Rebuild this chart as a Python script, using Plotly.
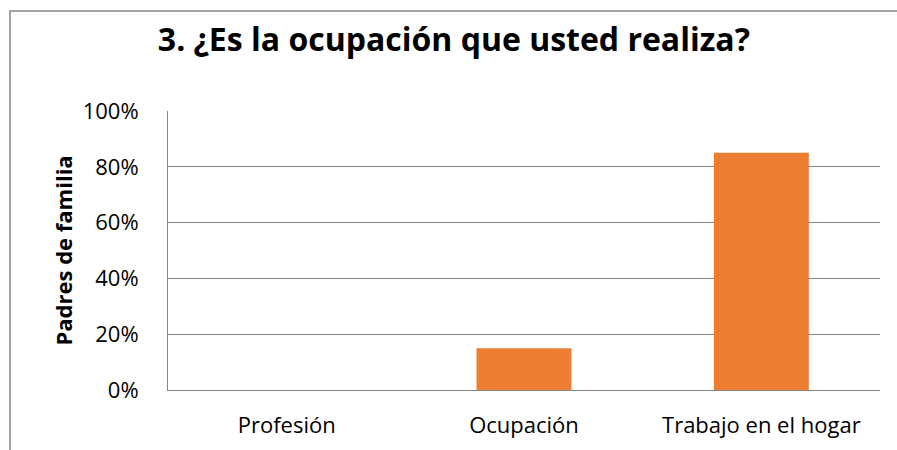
import plotly.graph_objects as go

categories = ["Profesión", "Ocupación", "Trabajo en el hogar"]
values = [0.0, 0.15, 0.85]
tick_vals = [0, 0.2, 0.4, 0.6, 0.8, 1.0]
tick_text = ["0%", "20%", "40%", "60%", "80%", "100%"]

W, H = 897, 450
L, R, T, B = 168, 17, 111, 60
pw, ph = W - L - R, H - T - B
FONT = "Open Sans, sans-serif"

fig = go.Figure(go.Bar(
    x=categories, y=values, marker_color="#ED7D31", width=0.4,
    marker_line_width=0, hoverinfo="skip",
))

fig.update_layout(
    width=W, height=H,
    margin=dict(l=L, r=R, t=T, b=B, autoexpand=False),
    paper_bgcolor="white", plot_bgcolor="white",
    font=dict(family=FONT, color="#000000", size=22),
    title=dict(text="<b>3. ¿Es la ocupación que usted realiza?</b>",
               x=0.506, xanchor="center", y=1 - 40 / H, yanchor="middle",
               font=dict(size=32, family=FONT)),
    showlegend=False,
)
fig.update_yaxes(
    range=[0, 1.0], tickvals=tick_vals, ticktext=tick_text,
    showgrid=True, gridcolor="#868686", gridwidth=1,
    showline=True, linecolor="#868686", linewidth=1,
    zeroline=False, ticks="", automargin=False,
    ticklabelstandoff=24,
    tickfont=dict(size=22, family=FONT),
)
fig.update_xaxes(
    showline=True, linecolor="#868686", linewidth=1, showgrid=False,
    ticks="", tickfont=dict(size=22, family=FONT), automargin=False,
    ticklabelstandoff=16,
)

fig.add_annotation(
    text="<b>Padres de familia</b>", xref="paper", yref="paper",
    x=(62 - L) / pw, y=0.5, textangle=-90, showarrow=False,
    xanchor="center", yanchor="middle", font=dict(size=22, family=FONT),
)

# outer chart border (partially cropped in the reference)
fig.add_shape(type="rect", xref="paper", yref="paper",
              x0=(10 - L) / pw, x1=(W + 20 - L) / pw,
              y0=-(H + 20 - (H - B)) / ph, y1=((H - B) - 11) / ph,
              line=dict(color="#868686", width=1.5), fillcolor="rgba(0,0,0,0)",
              layer="below")

fig.write_html("out.html", config={"displayModeBar": False},
               post_script="document.body.style.margin='0';document.body.style.overflow='hidden';")
